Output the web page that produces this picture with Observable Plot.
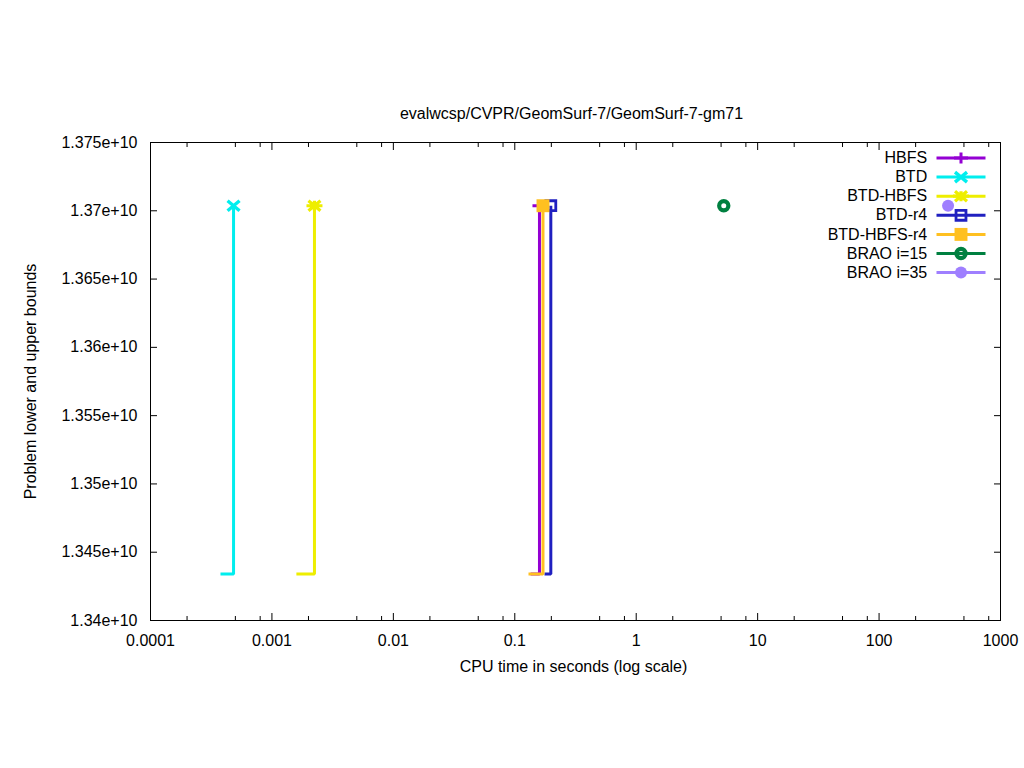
<!DOCTYPE html>
<html><head><meta charset="utf-8">
<script src="https://cdn.jsdelivr.net/npm/d3@7"></script>
<script src="https://cdn.jsdelivr.net/npm/@observablehq/plot@0.6"></script>
<style>body{margin:0;background:#fff;}</style>
</head><body><div id="chart"></div>
<script>
const titleText = "evalwcsp/CVPR/GeomSurf-7/GeomSurf-7-gm71";
const xLabelText = "CPU time in seconds (log scale)";
const yLabelText = "Problem lower and upper bounds";

const seriesNames = ["HBFS", "BTD", "BTD-HBFS", "BTD-r4", "BTD-HBFS-r4", "BRAO i=15", "BRAO i=35"];
const seriesColors = ["#9400d3", "#00eeee", "#eeee00", "#2020c0", "#ffc020", "#008040", "#9f7fff"];
const seriesSymbols = ["plus", "times", "star", "square-open", "square", "circle-open", "circle"];
const startTimes = [0.135, 0.000377, 0.00159, 0.1757, 0.1297, null, null];
const endTimes = [0.1597, 0.000483, 0.00224, 0.198, 0.1707, 5.26, 370];
const lowerBounds = [1.3434e10, 1.3434e10, 1.3434e10, 1.3434e10, 1.3434e10, null, null];
const upperBounds = [1.37037e10, 1.37037e10, 1.37037e10, 1.37037e10, 1.37037e10, 1.37037e10, 1.37037e10];

const xTickValues = [1e-4, 1e-3, 1e-2, 1e-1, 1, 10, 100, 1000];
const xTickLabels = ["0.0001", "0.001", "0.01", "0.1", "1", "10", "100", "1000"];
const xMinorMultipliers = [2, 5, 8];
const yTickValues = [1.34e10, 1.345e10, 1.35e10, 1.355e10, 1.36e10, 1.365e10, 1.37e10, 1.375e10];
const yTickLabels = ["1.34e+10", "1.345e+10", "1.35e+10", "1.355e+10", "1.36e+10", "1.365e+10", "1.37e+10", "1.375e+10"];

const xMinorTicks = xTickValues.slice(0, -1).flatMap(d => xMinorMultipliers.map(m => d * m));

const FONT = "'Liberation Sans', Arial, sans-serif";
const FS = 16;

const plusSym = {draw(c) { c.moveTo(-7, 0); c.lineTo(7, 0); c.moveTo(0, -5.5); c.lineTo(0, 5.5); }};
const timesSym = {draw(c) { c.moveTo(-6, -5); c.lineTo(6, 5); c.moveTo(-6, 5); c.lineTo(6, -5); }};
const starSym = {draw(c) {
  c.moveTo(-8, 0); c.lineTo(8, 0); c.moveTo(0, -5); c.lineTo(0, 5);
  c.moveTo(-6, -5); c.lineTo(6, 5); c.moveTo(-6, 5); c.lineTo(6, -5);
}};
const hline = {draw(c) { c.moveTo(-24.5, 0); c.lineTo(24.5, 0); }};

function markerOptions(i) {
  const c = seriesColors[i];
  switch (seriesSymbols[i]) {
    case "plus": return {symbol: plusSym, stroke: c, strokeWidth: 3};
    case "times": return {symbol: timesSym, stroke: c, strokeWidth: 3.4};
    case "star": return {symbol: starSym, stroke: c, strokeWidth: 3.2};
    case "square-open": return {symbol: "square", r: 5.6, stroke: c, strokeWidth: 2.8, fill: "none"};
    case "square": return {symbol: "square", r: 7.3, fill: c};
    case "circle-open": return {symbol: "circle", r: 4.6, stroke: c, strokeWidth: 4.2, fill: "none"};
    default: return {symbol: "circle", r: 6, fill: c};
  }
}

const marks = [];
marks.push(Plot.frame({stroke: "black", strokeWidth: 1}));

seriesNames.forEach((name, i) => {
  if (startTimes[i] != null) {
    const pts = [
      {x: startTimes[i], y: lowerBounds[i]},
      {x: endTimes[i], y: lowerBounds[i]},
      {x: endTimes[i], y: upperBounds[i]}
    ];
    marks.push(Plot.line(pts, {x: "x", y: "y", stroke: seriesColors[i], strokeWidth: 3, strokeLinejoin: "miter", strokeLinecap: "butt"}));
  }
  marks.push(Plot.dot([{x: endTimes[i], y: upperBounds[i]}], {x: "x", y: "y", ...markerOptions(i)}));
});

// axes (ticks inward, mirrored)
marks.push(Plot.axisX({anchor: "bottom", ticks: xTickValues, tickSize: -7, tickPadding: 21, tickFormat: d => xTickLabels[xTickValues.indexOf(d)], label: null, fontSize: FS, fontFamily: FONT, fill: "black"}));
marks.push(Plot.axisX({anchor: "top", ticks: xTickValues, tickSize: -7, fill: "none", label: null}));
marks.push(Plot.axisX({anchor: "bottom", ticks: xMinorTicks, tickSize: -4, fill: "none", label: null}));
marks.push(Plot.axisX({anchor: "top", ticks: xMinorTicks, tickSize: -4, fill: "none", label: null}));
marks.push(Plot.axisY({anchor: "left", ticks: yTickValues, tickSize: -7, tickPadding: 20, tickFormat: d => yTickLabels[yTickValues.indexOf(d)], label: null, fontSize: FS, fontFamily: FONT, fill: "black"}));
marks.push(Plot.axisY({anchor: "right", ticks: yTickValues, tickSize: -7, fill: "none", label: null}));

// title and axis labels
marks.push(Plot.text([titleText], {frameAnchor: "top", dx: -4, dy: -29, text: d => d, textAnchor: "middle", fontSize: FS, fontFamily: FONT, fill: "black", lineAnchor: "middle"}));
marks.push(Plot.text([xLabelText], {frameAnchor: "bottom", dx: -2, dy: 46, text: d => d, textAnchor: "middle", fontSize: FS, fontFamily: FONT, fill: "black", lineAnchor: "middle"}));
marks.push(Plot.text([yLabelText], {frameAnchor: "left", dx: -120, rotate: -90, text: d => d, textAnchor: "middle", fontSize: FS, fontFamily: FONT, fill: "black", lineAnchor: "middle"}));

// legend
seriesNames.forEach((name, i) => {
  const dy = 15.5 + 19.1 * i;
  marks.push(Plot.text([name], {frameAnchor: "top-right", dx: -73.3, dy, text: d => d, textAnchor: "end", lineAnchor: "middle", fontSize: FS, fontFamily: FONT, fill: "black"}));
  marks.push(Plot.dot([name], {frameAnchor: "top-right", dx: -39.5, dy, symbol: hline, stroke: seriesColors[i], strokeWidth: 3}));
  marks.push(Plot.dot([name], {frameAnchor: "top-right", dx: -39.5, dy, ...markerOptions(i)}));
});

const chart = Plot.plot({
  width: 1024,
  height: 768,
  marginLeft: 150,
  marginRight: 24,
  marginTop: 142,
  marginBottom: 148,
  style: {fontFamily: FONT, fontSize: FS + "px", background: "white", color: "black"},
  x: {type: "log", domain: [1e-4, 1000]},
  y: {type: "linear", domain: [1.34e10, 1.375e10]},
  marks
});
document.getElementById("chart").appendChild(chart);
</script>
</body></html>
